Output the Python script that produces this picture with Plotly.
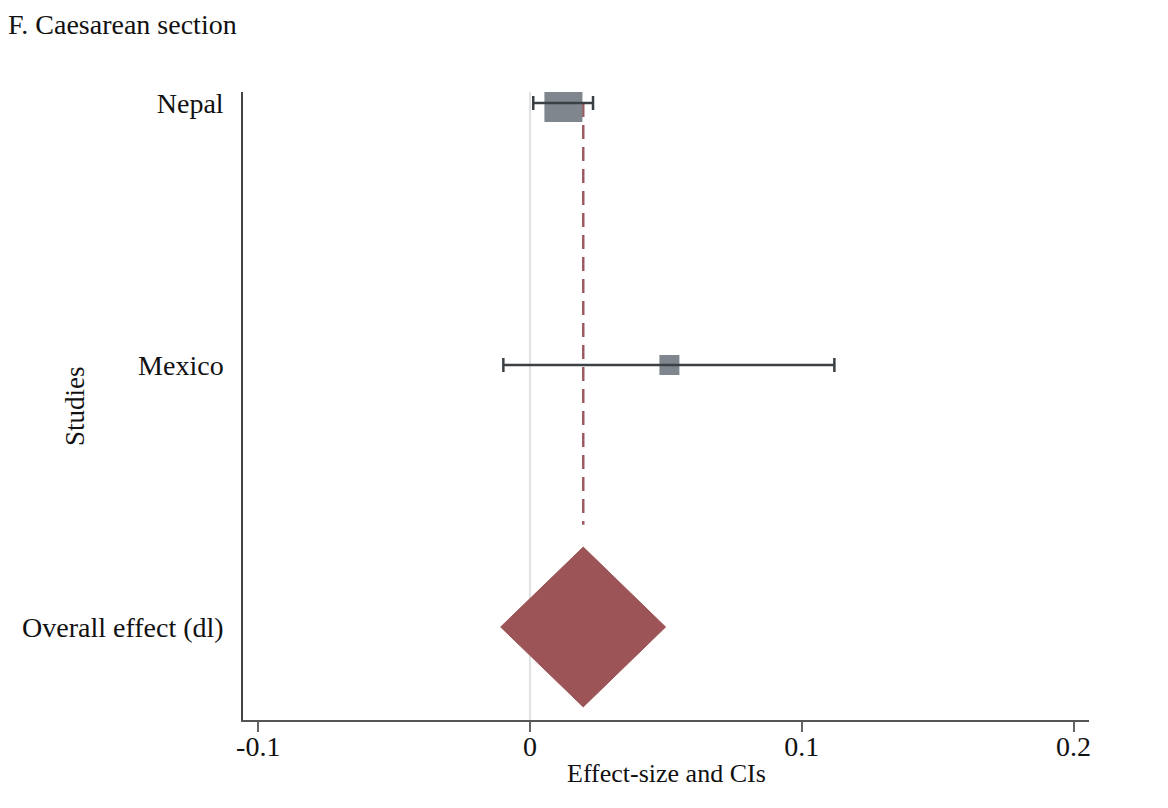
import plotly.graph_objects as go

# Data
studies = ["Nepal", "Mexico"]
study_y = [3, 2]
es = [0.0123, 0.0513]
ci_lo = [0.0012, -0.0098]
ci_hi = [0.0232, 0.1120]
box_px = [38, 20]

overall_label = "Overall effect (dl)"
overall_y = 1
overall_es = 0.0196
overall_lo = -0.0108
overall_hi = 0.0499
diamond_half = 0.305

xticks = [-0.1, 0, 0.1, 0.2]
xtick_labels = ["-0.1", "0", "0.1", "0.2"]

FONT = "Liberation Serif, Times New Roman, serif"
BOX_COL = "#7f868e"
CI_COL = "#3b4045"
DIA_COL = "#9c5457"

fig = go.Figure()

# dashed overall line
fig.add_trace(go.Scatter(
    x=[overall_es, overall_es], y=[study_y[0], overall_y + diamond_half + 0.085],
    mode="lines", line=dict(color="#9e5a61", width=2.5, dash="14px,8px"),
    hoverinfo="skip", showlegend=False))

# boxes
fig.add_trace(go.Scatter(
    x=es, y=study_y, mode="markers",
    marker=dict(symbol="square", size=box_px, color=BOX_COL, opacity=1, line=dict(width=0)),
    showlegend=False))

# CI lines over boxes
fig.add_trace(go.Scatter(
    x=es, y=study_y, mode="markers",
    marker=dict(size=1, color="rgba(0,0,0,0)"),
    error_x=dict(type="data", symmetric=False,
                 array=[h - e for h, e in zip(ci_hi, es)],
                 arrayminus=[e - l for e, l in zip(es, ci_lo)],
                 color=CI_COL, thickness=2.5, width=7),
    showlegend=False))

# overall diamond
fig.add_trace(go.Scatter(
    x=[overall_lo, overall_es, overall_hi, overall_es, overall_lo],
    y=[overall_y, overall_y + diamond_half, overall_y, overall_y - diamond_half, overall_y],
    mode="lines", fill="toself", fillcolor=DIA_COL,
    line=dict(color=DIA_COL, width=1), showlegend=False))

fig.update_layout(
    width=1168, height=808,
    margin=dict(l=235, r=87, t=84, b=96),
    paper_bgcolor="white", plot_bgcolor="white",
    font=dict(family=FONT, size=26, color="#111"),
    title=dict(text="F. Caesarean section", x=0, xref="container", xanchor="left",
               y=0.992, yref="container", yanchor="top",
               font=dict(family=FONT, size=28, color="#111")),
    annotations=[dict(text="Studies", xref="paper", yref="paper",
                      x=(67 - 235) / 846, y=0.5, xanchor="center", yanchor="middle",
                      textangle=-90, showarrow=False,
                      font=dict(family=FONT, size=27, color="#111")),
                 dict(text="Effect-size and CIs", xref="paper", yref="paper",
                      x=0.5, y=-(765 - 712) / 628, xanchor="center", yanchor="middle",
                      showarrow=False,
                      font=dict(family=FONT, size=26, color="#111"))],
)

fig.update_xaxes(
    range=[-0.1056, 0.2057], tickvals=xticks, ticktext=xtick_labels,
    showline=True, linecolor="#555", linewidth=1.5,
    ticks="outside", ticklen=10, tickcolor="#666", tickwidth=1.5,
    ticklabelstandoff=-9,
    showgrid=False, zeroline=True, zerolinecolor="#e2e2e2", zerolinewidth=2,
    tickfont=dict(family=FONT, size=28, color="#111"),
)

fig.update_yaxes(
    range=[0.645, 3.042],
    tickvals=study_y + [overall_y], ticktext=studies + [overall_label],
    showline=True, linecolor="#444", linewidth=1.5,
    ticks="outside", ticklen=12, tickcolor="rgba(0,0,0,0)",
    showgrid=False, zeroline=False, automargin=False,
    tickfont=dict(family=FONT, size=28, color="#111"),
)

fig.write_html("out.html")
